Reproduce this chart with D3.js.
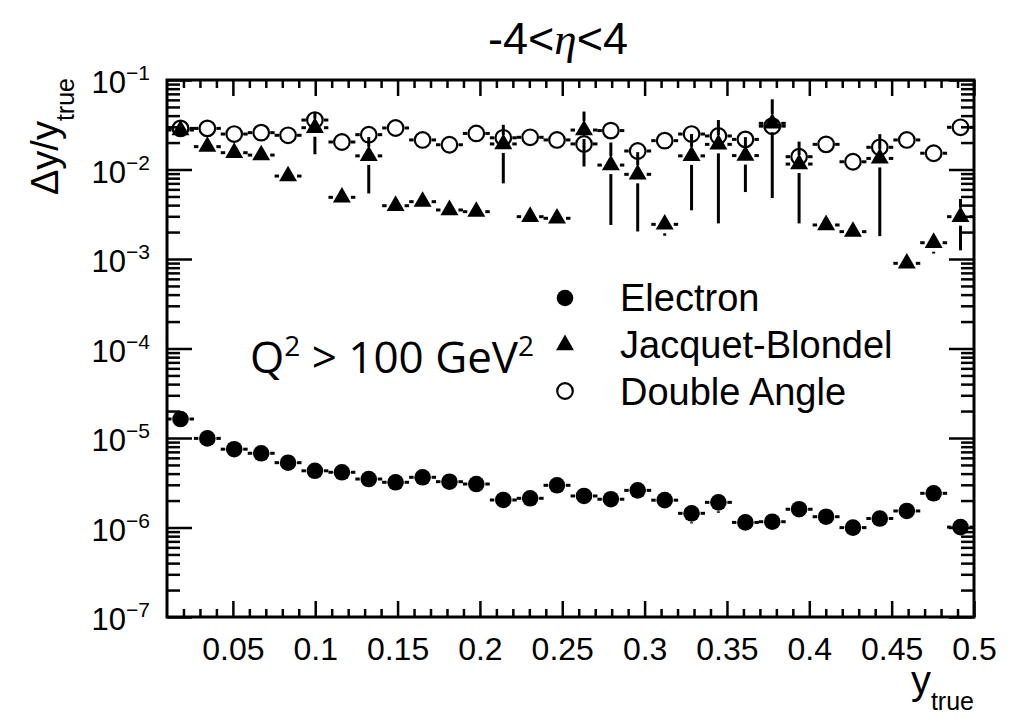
<!DOCTYPE html>
<html>
<head>
<meta charset="utf-8">
<script src="https://cdn.jsdelivr.net/npm/d3@7"></script>
<style>
  body { margin: 0; background: #fff; }
  text { font-family: "Liberation Sans", Arial, Helvetica, sans-serif; fill: #000; }
</style>
</head>
<body>
<svg id="chart" width="1015" height="718"></svg>
<script>
// bin centres of y_true (30 bins from 0.01 to 0.5)
var binCenter = [0.0182, 0.0345, 0.0508, 0.0672, 0.0835, 0.0998, 0.1162, 0.1325, 0.1488, 0.1652,
                 0.1815, 0.1978, 0.2142, 0.2305, 0.2468, 0.2632, 0.2795, 0.2958, 0.3122, 0.3285,
                 0.3448, 0.3612, 0.3775, 0.3938, 0.4102, 0.4265, 0.4428, 0.4592, 0.4755, 0.4918];
var binHalfWidth = 0.00817;

var electron = [1.63e-5, 9.9e-6, 7.5e-6, 6.75e-6, 5.3e-6, 4.3e-6, 4.14e-6, 3.48e-6, 3.2e-6, 3.64e-6,
                3.25e-6, 3.06e-6, 2.03e-6, 2.12e-6, 2.96e-6, 2.25e-6, 2.07e-6, 2.6e-6, 2.02e-6, 1.44e-6,
                1.91e-6, 1.14e-6, 1.16e-6, 1.60e-6, 1.32e-6, 9.97e-7, 1.26e-6, 1.53e-6, 2.41e-6, 1.01e-6];
var electronErr = [1.2e-6, 7e-7, 5e-7, 5e-7, 4e-7, 3e-7, 3e-7, 3e-7, 2.5e-7, 3e-7,
                   3e-7, 3e-7, 2e-7, 2e-7, 6e-7, 3e-7, 2e-7, 5e-7, 2e-7, 3.3e-7,
                   4.5e-7, 1e-7, 1e-7, 2e-7, 2e-7, 1e-7, 2.5e-7, 2.5e-7, 4e-7, 2e-7];

var jacquetBlondel = [2.76e-2, 1.80e-2, 1.54e-2, 1.45e-2, 8.45e-3, 2.93e-2, 4.89e-3, 1.42e-2, 3.94e-3, 4.37e-3,
                      3.53e-3, 3.38e-3, 1.93e-2, 2.97e-3, 2.85e-3, 2.76e-2, 1.12e-2, 8.83e-3, 2.44e-3, 1.42e-2,
                      1.91e-2, 1.43e-2, 3.28e-2, 1.15e-2, 2.40e-3, 2.02e-3, 1.33e-2, 8.95e-4, 1.52e-3, 2.97e-3];
var jacquetBlondelErr = [1.5e-3, 1e-3, 1e-3, 3e-3, 5e-4, 1.45e-2, 3e-4, 8.8e-3, 2e-4, 3e-4,
                         2e-4, 2e-4, 1.23e-2, 2e-4, 2e-4, 1.68e-2, 8.8e-3, 6.8e-3, 6.2e-4, 1.07e-2,
                         1.66e-2, 8.7e-3, 2.8e-2, 9e-3, 2e-4, 2e-4, 1.15e-2, 1e-4, 3.7e-4, 1.72e-3];

var doubleAngle = [2.88e-2, 2.88e-2, 2.49e-2, 2.58e-2, 2.41e-2, 3.57e-2, 2.03e-2, 2.45e-2, 2.91e-2, 2.14e-2,
                   1.89e-2, 2.53e-2, 2.26e-2, 2.29e-2, 2.14e-2, 1.93e-2, 2.72e-2, 1.61e-2, 2.10e-2, 2.49e-2,
                   2.37e-2, 2.17e-2, 3.05e-2, 1.39e-2, 1.91e-2, 1.22e-2, 1.77e-2, 2.14e-2, 1.52e-2, 2.96e-2];
var doubleAngleErr = [2.5e-3, 2.5e-3, 2.5e-3, 2.5e-3, 2.5e-3, 3.5e-3, 2e-3, 2.5e-3, 2.5e-3, 2e-3,
                      2.5e-3, 2.5e-3, 2e-3, 2e-3, 2e-3, 2e-3, 3e-3, 2.5e-3, 2e-3, 2.5e-3,
                      2.5e-3, 2e-3, 3e-3, 2e-3, 2e-3, 2e-3, 2e-3, 2e-3, 2e-3, 2.5e-3];

var xMajorTicks = [0.05, 0.1, 0.15, 0.2, 0.25, 0.3, 0.35, 0.4, 0.45, 0.5];
var xTickLabels = ["0.05", "0.1", "0.15", "0.2", "0.25", "0.3", "0.35", "0.4", "0.45", "0.5"];
var yDecades = [-7, -6, -5, -4, -3, -2, -1];

var legendNames = ["Electron", "Jacquet-Blondel", "Double Angle"];

var padL = 167, padR = 974, padT = 80, padB = 617;

var svg = d3.select("#chart");

var x = d3.scaleLinear().domain([0.01, 0.5]).range([padL, padR]);
var y = d3.scaleLog().domain([1e-7, 1e-1]).range([padB, padT]);

// tick values
var xMinor = d3.range(2, 50).map(function(k) { return k / 100; })
  .filter(function(v) { return Math.round(v * 100) % 5 !== 0; });
var yMajor = yDecades.map(function(p) { return Math.pow(10, p); });
var yMinor = [];
yDecades.slice(0, -1).forEach(function(p) {
  for (var k = 2; k <= 9; k++) yMinor.push(k * Math.pow(10, p));
});

function styleAxis(g) {
  g.select(".domain").remove();
  g.selectAll(".tick line").attr("stroke", "#000").attr("stroke-width", 2.5);
}

// x axes (bottom with labels, top mirrored)
svg.append("g").attr("transform", "translate(0," + padB + ")")
  .call(d3.axisBottom(x).tickValues(xMajorTicks).tickSize(-16).tickPadding(20)
    .tickFormat(function(d, i) { return xTickLabels[i]; }))
  .call(styleAxis)
  .selectAll("text").style("font-size", "32px").attr("fill", "#000");
svg.append("g").attr("transform", "translate(0," + padB + ")")
  .call(d3.axisBottom(x).tickValues(xMinor).tickSize(-8).tickFormat(""))
  .call(styleAxis);
svg.append("g").attr("transform", "translate(0," + padT + ")")
  .call(d3.axisTop(x).tickValues(xMajorTicks).tickSize(-16).tickFormat(""))
  .call(styleAxis);
svg.append("g").attr("transform", "translate(0," + padT + ")")
  .call(d3.axisTop(x).tickValues(xMinor).tickSize(-8).tickFormat(""))
  .call(styleAxis);

// y axes (left with labels, right mirrored)
svg.append("g").attr("transform", "translate(" + padL + ",0)")
  .call(d3.axisLeft(y).tickValues(yMajor).tickSize(-25).tickFormat(""))
  .call(styleAxis);
svg.append("g").attr("transform", "translate(" + padL + ",0)")
  .call(d3.axisLeft(y).tickValues(yMinor).tickSize(-13).tickFormat(""))
  .call(styleAxis);
svg.append("g").attr("transform", "translate(" + padR + ",0)")
  .call(d3.axisRight(y).tickValues(yMajor).tickSize(-25).tickFormat(""))
  .call(styleAxis);
svg.append("g").attr("transform", "translate(" + padR + ",0)")
  .call(d3.axisRight(y).tickValues(yMinor).tickSize(-13).tickFormat(""))
  .call(styleAxis);

// y labels 10^n
var yLab = svg.append("g").selectAll("text").data(yDecades).enter().append("text")
  .attr("x", 150).attr("y", function(d) { return y(Math.pow(10, d)) + 13; })
  .attr("text-anchor", "end");
yLab.append("tspan").style("font-size", "31px").text("10");
yLab.append("tspan").style("font-size", "21px").attr("dy", -13)
  .text(function(d) { return "\u2212" + (-d); });

// frame
svg.append("rect").attr("x", padL).attr("y", padT)
  .attr("width", padR - padL).attr("height", padB - padT)
  .attr("fill", "none").attr("stroke", "#000").attr("stroke-width", 3);

// data
function series(values, errs) {
  return values.map(function(v, i) { return { x: binCenter[i], v: v, e: errs[i] }; });
}
var gap = 9;
function drawErrors(data) {
  var g = svg.append("g").attr("stroke", "#000").attr("stroke-width", 3);
  data.forEach(function(d) {
    var cx = x(d.x), cy = y(d.v);
    var x0 = x(d.x - binHalfWidth), x1 = x(d.x + binHalfWidth);
    g.append("line").attr("x1", x0).attr("x2", cx - gap).attr("y1", cy).attr("y2", cy);
    g.append("line").attr("x1", cx + gap).attr("x2", x1).attr("y1", cy).attr("y2", cy);
    var yHi = y(d.v + d.e), yLo = y(Math.max(d.v - d.e, 1e-7));
    if (cy - yHi > gap) g.append("line").attr("x1", cx).attr("x2", cx).attr("y1", yHi).attr("y2", cy - gap);
    if (yLo - cy > gap) g.append("line").attr("x1", cx).attr("x2", cx).attr("y1", cy + gap).attr("y2", yLo);
  });
}

var eData = series(electron, electronErr);
var jData = series(jacquetBlondel, jacquetBlondelErr);
var dData = series(doubleAngle, doubleAngleErr);

drawErrors(eData);
drawErrors(jData);
drawErrors(dData);

var triangle = d3.symbol().type(d3.symbolTriangle).size(140);

svg.append("g").selectAll("circle").data(eData).enter().append("circle")
  .attr("cx", function(d) { return x(d.x); }).attr("cy", function(d) { return y(d.v); })
  .attr("r", 8.3).attr("fill", "#000");
svg.append("g").selectAll("path").data(jData).enter().append("path")
  .attr("d", triangle)
  .attr("transform", function(d) { return "translate(" + x(d.x) + "," + y(d.v) + ")"; })
  .attr("fill", "#000");
svg.append("g").selectAll("circle").data(dData).enter().append("circle")
  .attr("cx", function(d) { return x(d.x); }).attr("cy", function(d) { return y(d.v); })
  .attr("r", 7.8).attr("fill", "none").attr("stroke", "#000").attr("stroke-width", 2.2);

// legend
var legend = svg.append("g").attr("transform", "translate(565,298)");
legend.append("circle").attr("cx", 0).attr("cy", 0).attr("r", 8.3).attr("fill", "#000");
legend.append("path").attr("d", triangle).attr("transform", "translate(0,47)").attr("fill", "#000");
legend.append("circle").attr("cx", 0).attr("cy", 93).attr("r", 7.8)
  .attr("fill", "none").attr("stroke", "#000").attr("stroke-width", 2.2);
legend.selectAll("text").data(legendNames).enter().append("text")
  .attr("x", 55).attr("y", function(d, i) { return 13 + i * 47; })
  .style("font-size", "38px").text(function(d) { return d; });

// Q^2 label
var q = svg.append("text").attr("x", 250).attr("y", 373)
  .style("font-family", "'Open Sans', sans-serif").style("font-size", "44px");
q.append("tspan").text("Q");
q.append("tspan").attr("dy", -17).style("font-size", "28px").text("2");
q.append("tspan").attr("dy", 17).text(" > 100 GeV");
q.append("tspan").attr("dy", -17).style("font-size", "28px").text("2");

// title
var t = svg.append("text").attr("x", 558).attr("y", 54).attr("text-anchor", "middle")
  .style("font-size", "45px");
t.append("tspan").text("-4<");
t.append("tspan").style("font-style", "italic").style("font-family", "'Liberation Serif', serif").text("\u03b7");
t.append("tspan").text("<4");

// axis titles
var yt = svg.append("text").attr("transform", "translate(58," + (padT - 2) + ") rotate(-90)")
  .attr("text-anchor", "end");
yt.append("tspan").style("font-size", "38px").text("\u0394y/y");
yt.append("tspan").style("font-size", "25px").attr("dy", 16).text("true");

var xt = svg.append("text").attr("x", padR).attr("y", 694).attr("text-anchor", "end");
xt.append("tspan").style("font-size", "40px").text("y");
xt.append("tspan").style("font-size", "25px").attr("dy", 16).text("true");
</script>
</body>
</html>
